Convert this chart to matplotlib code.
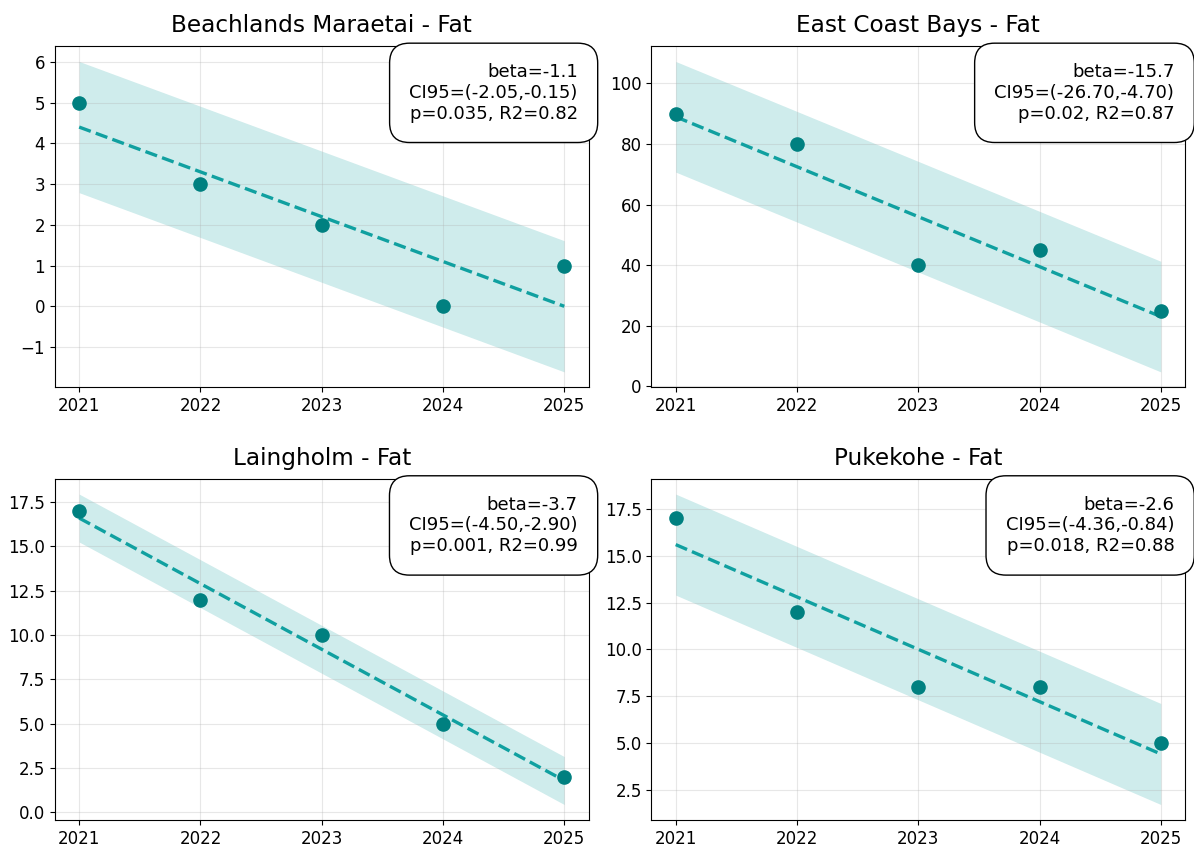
import numpy as np
import matplotlib
matplotlib.use("Agg")
import matplotlib.pyplot as plt

# Données par site
years = [2021, 2022, 2023, 2024, 2025]
sites = ["Beachlands Maraetai", "East Coast Bays", "Laingholm", "Pukekohe"]
fat_beachlands = [5, 3, 2, 0, 1]
fat_ecb = [90, 80, 40, 45, 25]
fat_laingholm = [17, 12, 10, 5, 2]
fat_pukekohe = [17, 12, 8, 8, 5]
values = [fat_beachlands, fat_ecb, fat_laingholm, fat_pukekohe]

# Statistiques affichées dans les encadrés
betas = ["-1.1", "-15.7", "-3.7", "-2.6"]
ci95 = ["(-2.05,-0.15)", "(-26.70,-4.70)", "(-4.50,-2.90)", "(-4.36,-0.84)"]
pvals = ["0.035", "0.02", "0.001", "0.018"]
r2s = ["0.82", "0.87", "0.99", "0.88"]

point_color = "#008080"
line_color = "#10a0a0"

fig, axes = plt.subplots(2, 2, figsize=(11.94, 8.48), dpi=100)
fig.subplots_adjust(left=0.046, right=0.9925, top=0.9458, bottom=0.033,
                    wspace=0.118, hspace=0.267)
axes = axes.ravel()

for i, ax in enumerate(axes):
    x = np.array(years, dtype=float)
    y = np.array(values[i], dtype=float)

    # Régression linéaire et bande ±1.96*écart-type des résidus
    slope, intercept = np.polyfit(x, y, 1)
    fit = slope * x + intercept
    sd = np.std(y - fit, ddof=1)
    ax.fill_between(x, fit - 1.96 * sd, fit + 1.96 * sd, color=line_color, alpha=0.2, linewidth=0)
    ax.plot(x, fit, linestyle="--", color=line_color, linewidth=2.4)
    ax.scatter(x, y, color=point_color, s=90, zorder=3)

    ax.set_title(f"{sites[i]} - Fat", fontsize=16.7, pad=10)
    ax.set_xticks(years)
    ax.tick_params(labelsize=12)
    ax.grid(True, alpha=0.3)

    txt = f"beta={betas[i]}\nCI95={ci95[i]}\np={pvals[i]}, R2={r2s[i]}"
    ax.text(0.98, 0.95, txt, transform=ax.transAxes, ha="right", va="top",
            fontsize=13, bbox=dict(boxstyle="round,pad=1.1", facecolor="white", edgecolor="black"))

fig.savefig("out.png", dpi=100)
